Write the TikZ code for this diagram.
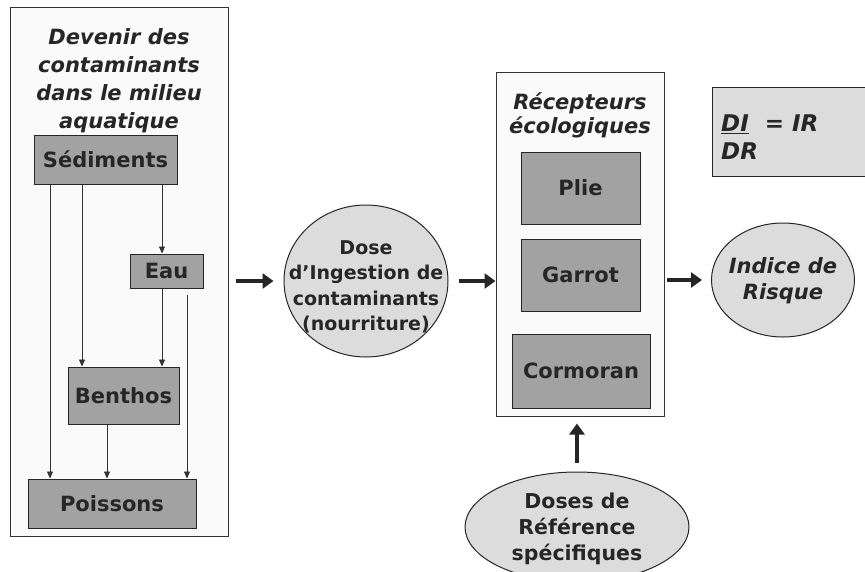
\documentclass[tikz,border=0pt]{standalone}
\usepackage{fontspec}
\setmainfont{DejaVu Sans}
\usetikzlibrary{shapes.geometric,arrows.meta}
\definecolor{txt}{HTML}{262626}
\definecolor{boxgray}{HTML}{A2A2A2}
\definecolor{ellgray}{HTML}{DCDCDC}
\definecolor{panel}{HTML}{FAFAFA}
\begin{document}
\begin{tikzpicture}[x=1pt,y=-1pt,
  panelbox/.style={draw=black!80, line width=1pt, fill=panel, minimum width=#1, inner sep=0pt},
  graybox/.style={draw=black!85, line width=1pt, fill=boxgray, text=txt, font=\bfseries\fontsize{21}{24}\selectfont, inner sep=0pt},
  ell/.style={ellipse, draw=black!85, line width=1pt, fill=ellgray, inner sep=0pt},
  etext/.style={text=txt, align=center, inner sep=0pt},
  tarr/.style={draw=black!80, line width=0.8pt, -{Triangle[length=7pt,width=6pt]}},
  barr/.style={draw=black!85, line width=4.5pt, -{Triangle[length=11pt,width=15pt]}},
  lbl/.style={text=txt, align=center, inner sep=0pt}
]
\useasboundingbox (0,0) rectangle (865,571);
\clip (0,0) rectangle (865,571);
\fill[white] (0,0) rectangle (865,571);

% left panel
\node[panelbox=218pt, minimum height=529pt] (left) at (119,271.5) {};
\node[lbl, font=\bfseries\itshape\fontsize{21}{28}\selectfont] (ltitle) at (119,81) {Devenir des\\contaminants\\dans le milieu\\aquatique};
\node[graybox, minimum width=143pt, minimum height=49pt] (sed) at (105.5,159.5) {Sédiments};
\node[graybox, minimum width=73pt, minimum height=34pt] (eau) at (166.5,271) {Eau};
\node[graybox, minimum width=111pt, minimum height=57pt] (ben) at (123.5,395.5) {Benthos};
\node[graybox, minimum width=168pt, minimum height=49pt] (poi) at (112,503.5) {Poissons};

\coordinate (s1) at ([xshift=-55.5pt]sed.south);
\coordinate (s2) at ([xshift=-23.5pt]sed.south);
\coordinate (s3) at ([xshift=56.5pt]sed.south);
\coordinate (e1) at ([xshift=-4.5pt]eau.south);
\coordinate (b1) at ([xshift=-16.5pt]ben.south);
\coordinate (f1) at (187,295);
\draw[tarr] (s1) -- (s1 |- poi.north);
\draw[tarr] (s2) -- (s2 |- ben.north);
\draw[tarr] (s3) -- (s3 |- eau.north);
\draw[tarr] (e1) -- (e1 |- ben.north);
\draw[tarr] (b1) -- (b1 |- poi.north);
\draw[tarr] (f1) -- (f1 |- poi.north);

% dose ellipse
\node[ell, minimum width=164pt, minimum height=152pt] (dose) at (366,281) {};
\node[etext, font=\bfseries\fontsize{19}{25.5}\selectfont] (dosetxt) at (366,287) {Dose\\d’Ingestion de\\contaminants\\(nourriture)};

% receptors panel
\node[panelbox=168pt, minimum height=344pt] (rec) at (580,244) {};
\node[lbl, font=\bfseries\itshape\fontsize{21}{24}\selectfont] (rtitle) at (580,115) {Récepteurs\\écologiques};
\node[graybox, minimum width=119pt, minimum height=72pt] (plie) at (580.5,188) {Plie};
\node[graybox, minimum width=119pt, minimum height=72pt] (gar) at (580.5,275) {Garrot};
\node[graybox, minimum width=138pt, minimum height=74pt] (cor) at (581,371) {Cormoran};

% index
\node[ell, minimum width=143pt, minimum height=114pt] (ind) at (783,280) {};
\node[etext, font=\bfseries\itshape\fontsize{21}{26}\selectfont] (indtxt) at (783,281) {Indice de\\Risque};

% formula box
\node[draw=black!85, line width=1pt, fill=ellgray, minimum width=160pt, minimum height=89pt, inner sep=0pt] (di) at (792,131.5) {};
\node[text=txt, anchor=west, align=left, inner sep=0pt, font=\bfseries\itshape\fontsize{23}{28}\selectfont] (ditxt) at (721,137) {\underline{DI}\ \ = IR\\DR};

% reference doses
\node[ell, minimum width=224pt, minimum height=110pt] (ref) at (577,527) {};
\node[etext, font=\bfseries\fontsize{20.5}{26}\selectfont] (reftxt) at (577,529) {Doses de\\Référence\\spécifiques};

% big arrows
\draw[barr, shorten <=7pt, shorten >=10pt] (left.east |- dose.west) -- (dose.west);
\draw[barr, shorten <=10pt] (dose.east) -- (dose.east -| rec.west);
\draw[barr, shorten <=2pt, shorten >=9pt] (rec.east |- ind.west) -- (ind.west);
\draw[barr, shorten <=9pt, shorten >=7pt] (ref.north) -- (rec.south -| ref.north);
\end{tikzpicture}
\end{document}
